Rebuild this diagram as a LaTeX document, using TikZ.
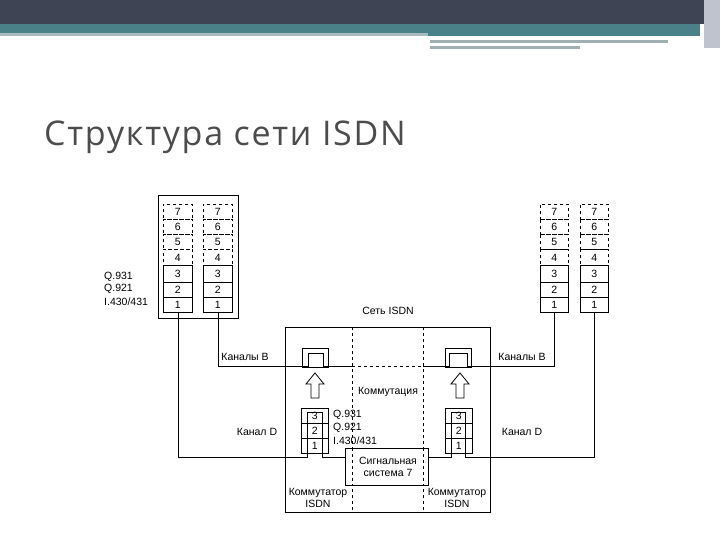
\documentclass[tikz,border=0pt]{standalone}
\usepackage{fontspec}
\setmainfont{Liberation Sans}
\newfontfamily\titlefont[LetterSpace=5]{Open Sans}
\begin{document}
\begin{tikzpicture}[x=1pt,y=-1pt,
  lab/.style={font=\fontsize{10.5}{12}\selectfont,inner sep=0pt},
  lay/.style={draw,thick,font=\fontsize{10.5}{12}\selectfont,inner sep=0pt},
  dl/.style={draw,dashed,thick,font=\fontsize{10.5}{12}\selectfont,inner sep=0pt},
  ln/.style={thick},
  harrow/.style={draw,thick,fill=white}]
\useasboundingbox (0,0) rectangle (720,540);
\fill[white] (0,0) rectangle (720,540);
\fill[color={rgb,255:red,63;green,68;blue,84}] (0,0) rectangle (720,24);
\fill[color={rgb,255:red,74;green,128;blue,136}] (0,24) rectangle (700,33);
\fill[color={rgb,255:red,170;green,185;blue,190}] (0,33) rectangle (428,36);
\fill[color={rgb,255:red,74;green,128;blue,136}] (428,33) rectangle (700,36);
\fill[color={rgb,255:red,160;green,175;blue,178}] (430,40) rectangle (668,43);
\fill[color={rgb,255:red,160;green,175;blue,178}] (430,46) rectangle (580,49);
\fill[color={rgb,255:red,190;green,195;blue,205}] (704,0) rectangle (720,48);
\node[anchor=base west,inner sep=0pt,text=black!70,font=\titlefont\fontsize{34}{40}\selectfont] (title) at (44,146) {Структура сети ISDN};
% left terminal box
\draw[ln] (158,195) rectangle (238,318);
\foreach \s/\x in {a/163,b/203}{
  \foreach \n/\t/\b/\st in {7/204/219/dl,6/219/234/dl,5/234/249/dl,4/249/265/dl,3/265/282/lay,2/282/297/lay,1/297/312/lay}{
    \node[\st,minimum width=29pt,minimum height={\b-\t},anchor=north west] (L\s\n) at (\x,\t) {\n};
  }}
\foreach \s/\x in {a/540,b/580}{
  \foreach \n/\t/\b/\st in {7/204/219/dl,6/219/234/dl,5/234/249/dl,4/249/265/dl,3/265/282/lay,2/282/297/lay,1/297/312/lay}{
    \node[\st,minimum width=28pt,minimum height={\b-\t},anchor=north west] (R\s\n) at (\x,\t) {\n};
  }}
\node[lab,anchor=west] (q1) at (104,277) {Q.931};
\node[lab,anchor=west] (q2) at (104,289) {Q.921};
\node[lab,anchor=west] (q3) at (104,302) {I.430/431};
% network
\draw[ln] (285,327) rectangle (490,512);
\draw[thick,dashed] (352,327) -- (352,512);
\draw[thick,dashed] (423,327) -- (423,512);
\node[lab] (net) at (388,311) {Сеть ISDN};
% B switches
\draw[ln] (302,348) rectangle (328,367);
\draw[ln] (445,348) rectangle (471,367);
\draw[ln] (218,312) -- (218,366) -- (308,366) -- (308,353) -- (323,353) -- (323,366) -- (352,366);
\draw[thick,dashed] (352,366) -- (423,366);
\draw[ln] (423,366) -- (449,366) -- (449,353) -- (467,353) -- (467,366) -- (554,366) -- (554,312);
\draw[harrow] (311,398) -- (311,384) -- (306,384) -- (315,373) -- (324,384) -- (319,384) -- (319,398) -- cycle;
\draw[harrow] (456,398) -- (456,384) -- (451,384) -- (460,373) -- (469,384) -- (464,384) -- (464,398) -- cycle;
\node[lab,fill=white,inner sep=1pt] (kom) at (388,392) {Коммутация};
% D stacks
\foreach \s/\x in {l/301,r/445}{
  \node[lay,minimum width=27pt,minimum height=15pt,anchor=north west] (D\s3) at (\x,408) {3};
  \node[lay,minimum width=27pt,minimum height=15pt,anchor=north west] (D\s2) at (\x,423) {2};
  \node[lay,minimum width=27pt,minimum height=15pt,anchor=north west] (D\s1) at (\x,438) {1};
}
\node[lab,anchor=west] (dq1) at (333,415) {Q.931};
\node[lab,anchor=west] (dq2) at (333,428) {Q.921};
\node[lab,anchor=west] (dq3) at (333,441) {I.430/431};
\node[draw,thick,fill=white,minimum width=83pt,minimum height=37pt,anchor=north west,inner sep=0pt] (ss7) at (345,448) {};
\draw[thick,dashed] (352,448) -- (352,485) (423,448) -- (423,485);
\node[lab,align=center,font=\fontsize{10.5}{12.5}\selectfont] (ss7t) at (388,467) {Сигнальная\\система 7};
\draw[ln] (178,312) -- (178,457) -- (307,457) -- (307,412) -- (322,412) -- (322,457) -- (ss7.west |- 0,457);
\draw[ln] (ss7.east |- 0,457) -- (451,457) -- (451,412) -- (465,412) -- (465,457) -- (594,457) -- (594,312);
\node[lab] (kb1) at (245,357) {Каналы B};
\node[lab] (kb2) at (522,357) {Каналы B};
\node[lab] (kd1) at (257,432) {Канал D};
\node[lab] (kd2) at (522,432) {Канал D};
\node[lab,align=center,fill=white,inner sep=1pt,font=\fontsize{10.5}{12.5}\selectfont] (k1) at (318,498) {Коммутатор\\ISDN};
\node[lab,align=center,fill=white,inner sep=1pt,font=\fontsize{10.5}{12.5}\selectfont] (k2) at (457,498) {Коммутатор\\ISDN};
\end{tikzpicture}
\end{document}
